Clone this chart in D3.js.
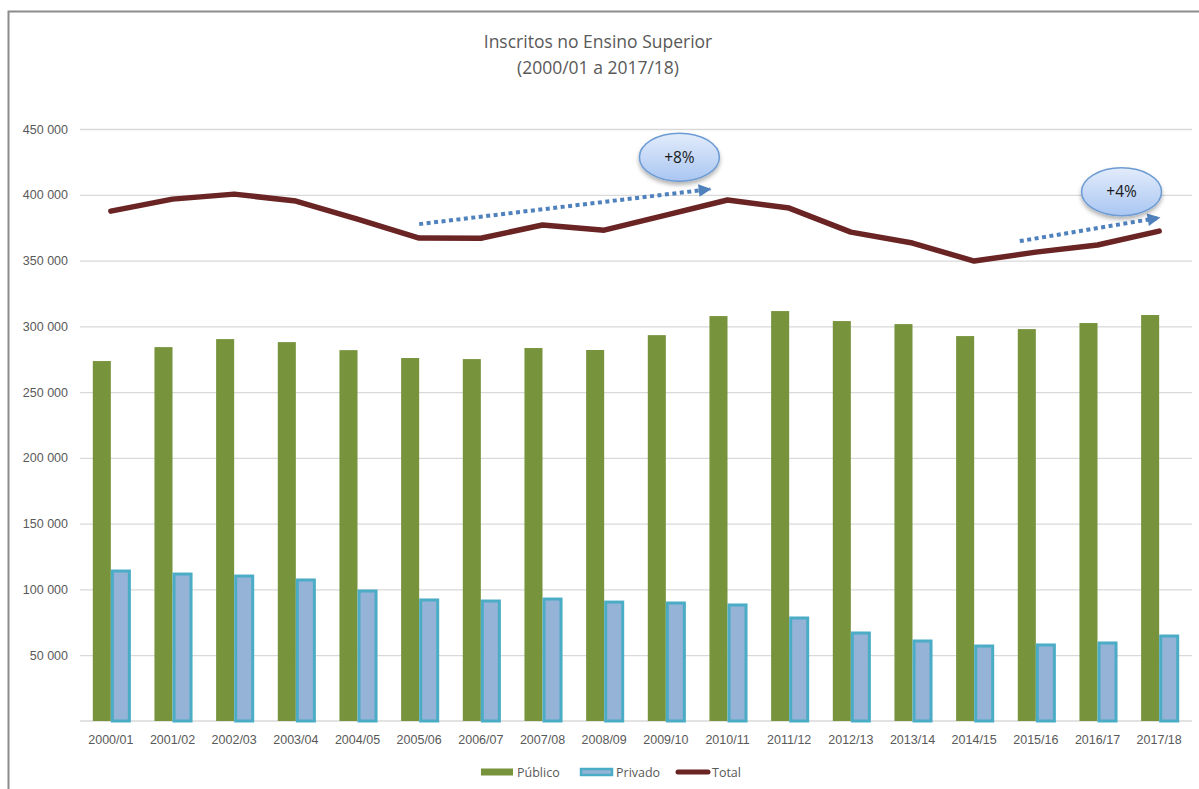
<!DOCTYPE html>
<html>
<head>
<meta charset="utf-8">
<script src="https://cdn.jsdelivr.net/npm/d3@7/dist/d3.min.js"></script>
<style>
  html, body { margin: 0; padding: 0; background: #fff; }
  svg { display: block; font-family: "Open Sans", Lato, "Liberation Sans", sans-serif; }
</style>
</head>
<body>
<svg id="chart" width="1199" height="789"></svg>
<script>
const categories = ["2000/01","2001/02","2002/03","2003/04","2004/05","2005/06","2006/07","2007/08","2008/09","2009/10","2010/11","2011/12","2012/13","2013/14","2014/15","2015/16","2016/17","2017/18"];
const publico = [273600,284200,290300,288000,281900,275900,275100,283500,282000,293300,307800,311600,304000,301700,292600,297900,302500,308600];
const privado = [114000,111700,110200,107200,98800,92000,91200,92700,90400,89700,88200,78300,66900,60800,57000,57800,59300,64600];
const total = [387600,396700,400500,395200,381500,367100,367000,377000,373100,384500,396000,389900,371600,363300,349600,356400,361800,372400];
const yTicks = [50000,100000,150000,200000,250000,300000,350000,400000,450000];
const seriesNames = ["Público","Privado","Total"];
// annotations: fractional category index and value
const arrows = [
  {from: [5.0, 377700], to: [9.72, 404300]},
  {from: [14.74, 364800], to: [17.0, 382500]}
];
const bubbles = [
  {label: "+8%", at: [9.22, 428600]},
  {label: "+4%", at: [16.39, 402300]}
];

const svg = d3.select("#chart");
const mLeft = 80, mRight = 1190, mTop = 129, mBottom = 721;

const x0 = d3.scaleBand().domain(categories).range([mLeft, mRight]).paddingInner(0.415).paddingOuter(0.2075);
const x1 = d3.scaleBand().domain(["pub","priv"]).range([0, x0.bandwidth()]);
const y = d3.scaleLinear().domain([0, 450000]).range([mBottom, mTop]);
const xi = i => {
  const lo = Math.floor(i), hi = Math.min(lo + 1, categories.length - 1);
  const a = x0(categories[lo]) + x0.bandwidth() / 2;
  const b = x0(categories[hi]) + x0.bandwidth() / 2;
  return a + (b - a) * (i - lo);
};

// frame
svg.append("path").attr("d", `M8.5,790 V11.5 H1199`).attr("fill", "none").attr("stroke", "#8c8c8c").attr("stroke-width", 2);

// title
const title = svg.append("text").attr("x", 598).attr("text-anchor", "middle").attr("fill", "#595959").attr("font-size", 17.5);
title.append("tspan").attr("x", 598).attr("y", 48).text("Inscritos no Ensino Superior");
title.append("tspan").attr("x", 598).attr("y", 74).text("(2000/01 a 2017/18)");

// gridlines
const yAxis = d3.axisLeft(y).tickValues(yTicks).tickSize(-(mRight - mLeft + 2)).tickFormat(d => d3.format(",")(d).replace(/,/g, " ")).tickPadding(12);
const gy = svg.append("g").attr("transform", `translate(${mLeft},0)`).call(yAxis);
gy.select(".domain").remove();
gy.selectAll(".tick line").attr("stroke", "#d9d9d9").attr("stroke-width", 1.3);
gy.selectAll(".tick text").attr("fill", "#595959").attr("font-size", 12.5).attr("x", -12);

// baseline
svg.append("line").attr("x1", mLeft).attr("x2", mRight + 2).attr("y1", y(0)).attr("y2", y(0)).attr("stroke", "#d9d9d9").attr("stroke-width", 1.3);

// x axis labels
const xAxis = d3.axisBottom(x0).tickSize(0).tickPadding(14);
const gx = svg.append("g").attr("transform", `translate(0,${mBottom})`).call(xAxis);
gx.select(".domain").remove();
gx.selectAll(".tick text").attr("fill", "#595959").attr("font-size", 12.5);

// bars
svg.append("g").selectAll("rect").data(publico).join("rect")
  .attr("x", (d, i) => x0(categories[i]) + x1("pub"))
  .attr("width", x1.bandwidth())
  .attr("y", d => y(d))
  .attr("height", d => y(0) - y(d))
  .attr("fill", "#77933c");

svg.append("g").selectAll("rect").data(privado).join("rect")
  .attr("x", (d, i) => x0(categories[i]) + x1("priv") + 1.5)
  .attr("width", x1.bandwidth() - 1)
  .attr("y", d => y(d))
  .attr("height", d => y(0) - y(d))
  .attr("fill", "#95b3d7")
  .attr("stroke", "#4bacc6")
  .attr("stroke-width", 3);

// total line
const line = d3.line().x((d, i) => x0(categories[i]) + x0.bandwidth() / 2).y(d => y(d));
svg.append("path").datum(total).attr("d", line)
  .attr("fill", "none").attr("stroke", "#6a2424").attr("stroke-width", 5.5)
  .attr("stroke-linejoin", "round").attr("stroke-linecap", "round");

// arrows
const defs = svg.append("defs");
defs.append("marker").attr("id", "ah").attr("viewBox", "0 0 10 10").attr("refX", 9).attr("refY", 5)
  .attr("markerWidth", 3.6).attr("markerHeight", 3.2).attr("markerUnits", "strokeWidth").attr("orient", "auto")
  .append("path").attr("d", "M0,0 L10,5 L0,10 Z").attr("fill", "#4f81bd");
arrows.forEach(a => {
  svg.append("line")
    .attr("x1", xi(a.from[0])).attr("y1", y(a.from[1]))
    .attr("x2", xi(a.to[0])).attr("y2", y(a.to[1]))
    .attr("stroke", "#4f81bd").attr("stroke-width", 4).attr("stroke-dasharray", "4 3.5")
    .attr("marker-end", "url(#ah)");
});

// bubbles
const grad = defs.append("linearGradient").attr("id", "bg").attr("x1", 0).attr("y1", 0).attr("x2", 0).attr("y2", 1);
grad.append("stop").attr("offset", "0%").attr("stop-color", "#e3ecfb");
grad.append("stop").attr("offset", "100%").attr("stop-color", "#a9c6f2");
const filt = defs.append("filter").attr("id", "sh").attr("x", "-30%").attr("y", "-30%").attr("width", "160%").attr("height", "180%");
filt.append("feDropShadow").attr("dx", 0).attr("dy", 3).attr("stdDeviation", 2).attr("flood-color", "#000").attr("flood-opacity", 0.3);
bubbles.forEach(b => {
  const cx = xi(b.at[0]), cy = y(b.at[1]);
  svg.append("ellipse").attr("cx", cx).attr("cy", cy).attr("rx", 40).attr("ry", 24)
    .attr("fill", "url(#bg)").attr("stroke", "#6d9bd3").attr("stroke-width", 1.5).attr("filter", "url(#sh)");
  svg.append("text").attr("x", cx).attr("y", cy + 5.5).attr("text-anchor", "middle")
    .attr("font-size", 15.5).attr("fill", "#1a1a1a").text(b.label);
});

// legend
const leg = svg.append("g").attr("font-size", 12.5).attr("fill", "#595959");
const legItems = [
  {name: seriesNames[0], x: 481, type: "pub"},
  {name: seriesNames[1], x: 580, type: "priv"},
  {name: seriesNames[2], x: 676, type: "tot"}
];
legItems.forEach(it => {
  const ly = 772;
  if (it.type === "pub") {
    leg.append("rect").attr("x", it.x).attr("y", ly - 3.5).attr("width", 32).attr("height", 7).attr("fill", "#77933c");
  } else if (it.type === "priv") {
    leg.append("rect").attr("x", it.x + 1).attr("y", ly - 3).attr("width", 31).attr("height", 6).attr("fill", "#95b3d7").attr("stroke", "#4bacc6").attr("stroke-width", 2.5);
  } else {
    leg.append("line").attr("x1", it.x + 2).attr("x2", it.x + 32).attr("y1", ly).attr("y2", ly)
      .attr("stroke", "#6a2424").attr("stroke-width", 5).attr("stroke-linecap", "round");
  }
  leg.append("text").attr("x", it.x + 36).attr("y", ly + 4.5).text(it.name);
});
</script>
</body>
</html>
